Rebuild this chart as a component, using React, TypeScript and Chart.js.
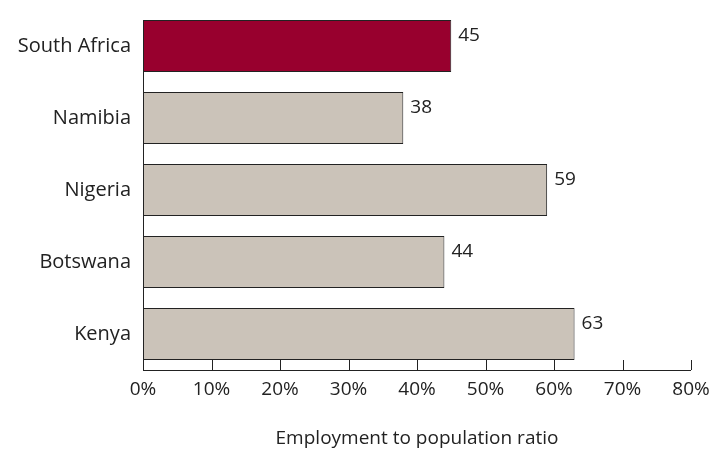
import React, { useEffect, useRef } from "react";
import { Chart, registerables } from "chart.js";
Chart.register(...registerables);

const categories = ["South Africa", "Namibia", "Nigeria", "Botswana", "Kenya"];
const values = [45, 38, 59, 44, 63];
const colors = ["#98002e", "#cbc3b9", "#cbc3b9", "#cbc3b9", "#cbc3b9"];
const xTicks = [0, 10, 20, 30, 40, 50, 60, 70, 80];
const FONT = "'Open Sans', 'DejaVu Sans', sans-serif";

export default function App() {
  const ref = useRef<HTMLCanvasElement>(null);
  useEffect(() => {
    const labelsPlugin = {
      id: "extras",
      afterDatasetsDraw(chart: any) {
        const ctx = chart.ctx;
        const meta = chart.getDatasetMeta(0);
        ctx.save();
        ctx.fillStyle = "#222";
        ctx.font = `19px ${FONT}`;
        ctx.textBaseline = "middle";
        meta.data.forEach((bar: any, i: number) => {
          ctx.fillText(String(values[i]), bar.x + 7, bar.y - 10);
        });
        const xs = chart.scales.x;
        const a = chart.chartArea;
        ctx.strokeStyle = "#222";
        ctx.lineWidth = 1;
        ctx.beginPath();
        ctx.moveTo(a.left, a.bottom + 0.5);
        ctx.lineTo(xs.getPixelForValue(80), a.bottom + 0.5);
        xTicks.forEach((t) => {
          const px = Math.round(xs.getPixelForValue(t)) + 0.5;
          ctx.moveTo(px, a.bottom);
          ctx.lineTo(px, a.bottom - 10);
        });
        ctx.moveTo(a.left + 0.5, a.top + 10);
        ctx.lineTo(a.left + 0.5, a.bottom);
        ctx.stroke();
        ctx.restore();
      },
    };
    const chart = new Chart(ref.current!, {
      type: "bar",
      data: {
        labels: categories,
        datasets: [
          {
            data: values,
            backgroundColor: colors,
            borderColor: "#222",
            borderWidth: 1,
            borderSkipped: false,
            categoryPercentage: 1,
            barPercentage: 0.72,
          },
        ],
      },
      options: {
        indexAxis: "y",
        animation: false,
        responsive: false,
        layout: { padding: { top: 10, right: 29, left: 0, bottom: 0 } },
        plugins: { legend: { display: false }, tooltip: { enabled: false } },
        scales: {
          x: {
            min: 0,
            max: 80,
            afterBuildTicks: (s: any) => { s.ticks = xTicks.map((v) => ({ value: v })); },
            afterFit: (s: any) => { s.height = 84; },
            grid: { display: false },
            border: { display: false },
            ticks: {
              color: "#222",
              font: { family: FONT, size: 19 },
              padding: 0,
              maxRotation: 0,
              callback: (v: any) => v + "%",
            },
            title: {
              display: true,
              text: "Employment to population ratio",
              color: "#222",
              font: { family: FONT, size: 19 },
              padding: { top: 22 },
            },
          },
          y: {
            afterFit: (s: any) => { s.width = 143; s.paddingTop = 0; s.paddingBottom = 0; },
            grid: { display: false },
            border: { display: false },
            ticks: { color: "#222", font: { family: FONT, size: 20 }, padding: 4 },
          },
        },
      },
      plugins: [labelsPlugin],
    });
    return () => chart.destroy();
  }, []);
  return (
    <div style={{ position: "fixed", left: 0, top: 0, width: 720, height: 454, background: "#fff" }}>
      <canvas ref={ref} width={720} height={454} style={{ width: 720, height: 454 }} />
    </div>
  );
}
